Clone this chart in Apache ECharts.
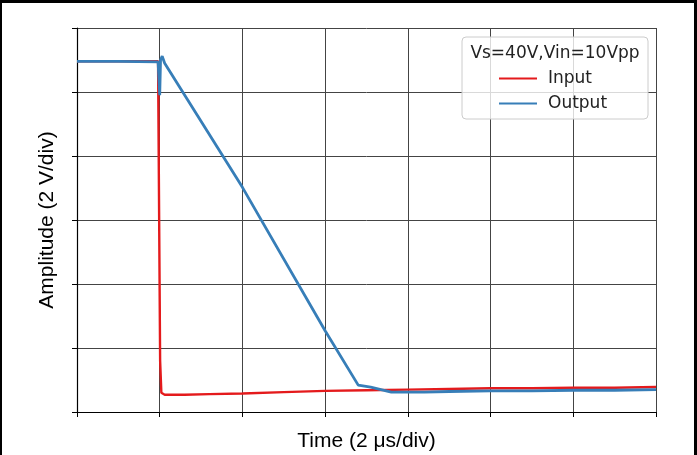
<!DOCTYPE html>
<html><head><meta charset="utf-8">
<script src="https://cdn.jsdelivr.net/npm/echarts@6/dist/echarts.min.js"></script>
<style>
html,body{margin:0;padding:0;background:#fff;overflow:hidden}
#wrap{position:relative;width:697px;height:455px}
#chart{position:absolute;left:0;top:0;width:697px;height:455px}
#frame{position:absolute;left:0;top:0;width:692px;height:470px;border-left:2px solid #000;border-top:3px solid #000;border-right:3px solid #000;pointer-events:none}
</style></head>
<body><div id="wrap"><div id="chart"></div><div id="frame"></div></div>
<script>
// time in divisions (2 µs/div), amplitude in divisions (2 V/div)
const legendTitle = 'Vs=40V,Vin=10Vpp';
const seriesNames = ['Input', 'Output'];
const inputT = [0, 0.5, 0.98, 0.995, 1.005, 1.02, 1.06, 1.3, 1.6, 2.0, 2.5, 3.0, 3.5, 4.0, 4.5, 5.0, 5.5, 6.0, 6.5, 7.0];
const inputV = [5.48, 5.48, 5.48, 5.47, 0.8, 0.3, 0.27, 0.27, 0.28, 0.29, 0.31, 0.33, 0.34, 0.35, 0.36, 0.37, 0.37, 0.38, 0.38, 0.39];
const outputT = [0, 0.5, 0.98, 1.0, 1.01, 1.03, 1.06, 2.0, 3.0, 3.4, 3.55, 3.8, 4.2, 4.5, 5.0, 5.5, 6.0, 6.5, 7.0];
const outputV = [5.48, 5.48, 5.47, 4.95, 5.5, 5.56, 5.45, 3.51, 1.27, 0.42, 0.39, 0.31, 0.31, 0.32, 0.33, 0.33, 0.34, 0.34, 0.35];

const chart = echarts.init(document.getElementById('chart'), null, {renderer: 'canvas', width: 697, height: 455});
const toPts = (t, v) => t.map((x, i) => [x, v[i]]);
chart.setOption({
  animation: false,
  backgroundColor: '#fff',
  grid: {left: 77, top: 28, width: 579, height: 384, containLabel: false, outerBoundsMode: 'none'},
  xAxis: {
    type: 'value', min: 0, max: 7, interval: 1,
    name: 'Time (2 μs/div)', nameLocation: 'middle', nameGap: 19,
    nameTextStyle: {fontFamily: 'Liberation Sans', fontSize: 21, color: '#000'},
    axisLine: {show: true, onZero: false, lineStyle: {color: '#000', width: 1.2}},
    axisTick: {show: true, inside: false, length: 5, lineStyle: {color: '#000', width: 1}},
    axisLabel: {show: false},
    splitLine: {show: true, lineStyle: {color: '#444', width: 1}}
  },
  yAxis: {
    type: 'value', min: 0, max: 6, interval: 1,
    name: 'Amplitude (2 V/div)', nameLocation: 'middle', nameGap: 19, nameRotate: 90,
    nameTextStyle: {fontFamily: 'Liberation Sans', fontSize: 21, color: '#000'},
    axisLine: {show: true, onZero: false, lineStyle: {color: '#000', width: 1.2}},
    axisTick: {show: true, inside: false, length: 5, lineStyle: {color: '#000', width: 1}},
    axisLabel: {show: false},
    splitLine: {show: true, lineStyle: {color: '#444', width: 1}}
  },
  legend: {
    orient: 'vertical', left: 499, top: 70, padding: 0,
    icon: 'rect', itemWidth: 38, itemHeight: 2, itemGap: 8,
    data: seriesNames,
    textStyle: {fontFamily: 'DejaVu Sans', fontSize: 17, color: '#222', padding: [0, 0, 0, 6]}
  },
  graphic: [
    {type: 'rect', z: 3, shape: {x: 462, y: 37, width: 186, height: 82, r: 4},
     style: {fill: 'rgba(255,255,255,0.8)', stroke: '#ccc', lineWidth: 1}},
    {type: 'text', z: 4, x: 555, y: 54,
     style: {text: legendTitle, fontFamily: 'DejaVu Sans', fontSize: 17, fill: '#222', align: 'center', verticalAlign: 'middle'}}
  ],
  series: [
    {name: seriesNames[0], type: 'line', data: toPts(inputT, inputV), showSymbol: false, symbol: 'none',
     lineStyle: {color: '#e41a1c', width: 2.4}, itemStyle: {color: '#e41a1c'}, z: 2},
    {name: seriesNames[1], type: 'line', data: toPts(outputT, outputV), showSymbol: false, symbol: 'none',
     lineStyle: {color: '#377eb8', width: 2.8}, itemStyle: {color: '#377eb8'}, z: 3}
  ]
});
</script></body></html>
